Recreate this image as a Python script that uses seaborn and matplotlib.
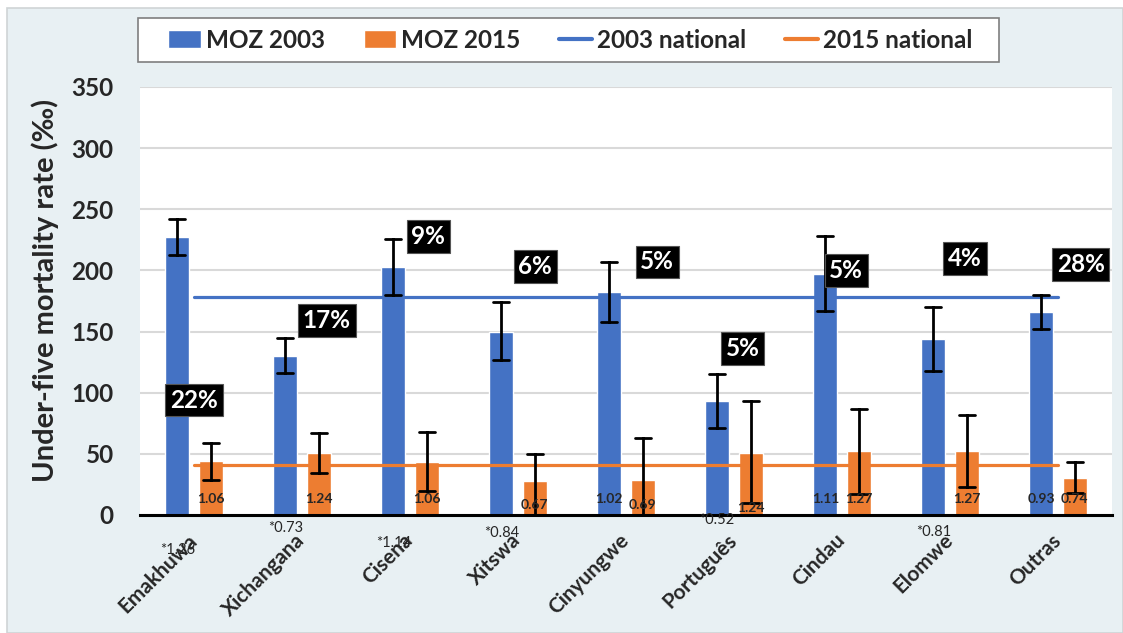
import numpy as np
import pandas as pd
import matplotlib
matplotlib.use("Agg")
import matplotlib.pyplot as plt
from matplotlib.patches import Rectangle, Patch
from matplotlib.lines import Line2D
import seaborn as sns

# === data ===
languages = ["Emakhuwa", "Xichangana", "Cisena", "Xitswa", "Cinyungwe",
             "Português", "Cindau", "Elomwe", "Outras"]
u5mr_2003 = [227, 130, 203, 150, 182, 93, 197, 144, 166]
ci_2003_low = [213, 116, 180, 127, 158, 71, 167, 118, 152]
ci_2003_high = [242, 145, 226, 174, 207, 115, 228, 170, 180]
u5mr_2015 = [44, 51, 43, 28, 29, 51, 52, 52, 30]
ci_2015_low = [29, 34, 20, -3, -6, 10, 17, 23, 18]
ci_2015_high = [59, 67, 68, 50, 63, 93, 87, 82, 43]
national_2003 = 178
national_2015 = 41
share = ["22%", "17%", "9%", "6%", "5%", "5%", "5%", "4%", "28%"]
ratio_2003 = ["*1.26", "*0.73", "*1.14", "*0.84", "1.02", "*0.52", "1.11", "*0.81", "0.93"]
ratio_2015 = ["1.06", "1.24", "1.06", "0.67", "0.69", "1.24", "1.27", "1.27", "0.74"]

BLUE = "#4472C4"
ORANGE = "#ED7D31"
BG = "#E8F0F3"

# long table: low / point / high per bar, median = bar height, min-max = error bar
rows = []
for i, lang in enumerate(languages):
    for v in (ci_2003_low[i], u5mr_2003[i], ci_2003_high[i]):
        rows.append((lang, "MOZ 2003", v))
    for v in (ci_2015_low[i], u5mr_2015[i], ci_2015_high[i]):
        rows.append((lang, "MOZ 2015", v))
df = pd.DataFrame(rows, columns=["language", "survey", "u5mr"])

sns.set_style("white")
plt.rcParams["font.family"] = ["Lato", "DejaVu Sans"]

fig = plt.figure(figsize=(11.23, 6.33), dpi=100, facecolor="white")
fig.patches.append(Rectangle((7 / 1123, 0), 1 - 7 / 1123, 1 - 8 / 633,
                             transform=fig.transFigure, facecolor=BG,
                             edgecolor="#cfd4d6", linewidth=1.2, zorder=-10))
ax = fig.add_axes([140 / 1123, 1 - 515 / 633, 972 / 1123, 428 / 633])
ax.set_facecolor("white")

sns.barplot(data=df, x="language", y="u5mr", hue="survey", order=languages,
            hue_order=["MOZ 2003", "MOZ 2015"], palette=[BLUE, ORANGE], saturation=1,
            estimator=np.median, errorbar=lambda v: (v.min(), v.max()),
            width=0.62, gap=0.29, capsize=0.3,
            err_kws={"color": "black", "linewidth": 2, "zorder": 5},
            ax=ax, legend=False, zorder=3)

x = np.arange(len(languages))
sns.lineplot(x=x, y=[national_2003] * len(x), color=BLUE, linewidth=2.3, ax=ax, zorder=4)
sns.lineplot(x=x, y=[national_2015] * len(x), color=ORANGE, linewidth=2.3, ax=ax, zorder=4)

ax.set_xlim(-0.5, len(languages) - 0.5)
ax.set_ylim(0, 350)
ax.set_yticks(range(0, 351, 50))
ax.grid(axis="y", color="#d9d9d9", linewidth=1.5, zorder=0)
ax.set_axisbelow(True)
for s in ["left", "right", "top"]:
    ax.spines[s].set_visible(False)
ax.spines["bottom"].set_color("black")
ax.spines["bottom"].set_linewidth(2.2)
ax.spines["bottom"].set_zorder(6)

ax.set_xticks(x)
ax.set_xticks(np.arange(-0.5, len(languages)), minor=True)
ax.tick_params(axis="x", which="major", length=0, pad=16)
ax.tick_params(axis="x", which="minor", length=7, width=2, color="black", direction="out")
ax.set_xticklabels(languages, rotation=45, ha="right", rotation_mode="anchor",
                   fontsize=15, fontweight="bold", va="center")
ax.tick_params(axis="y", length=0, pad=19, labelsize=17.5)
for t in ax.get_yticklabels():
    t.set_fontweight("bold")
ax.set_xlabel("")
ax.set_ylabel("Under-five mortality rate (‰)", fontsize=21, fontweight="bold")
ax.yaxis.set_label_coords(-0.083, 0.525)

# ratio labels on bars
off = 0.155
lab_y_2003 = [-29, -11, -23, -15, 13, -4, 13, -14, 13]
lab_y_2015 = [13, 13, 13, 8, 8, 6, 13, 13, 13]
for i in range(len(languages)):
    star = ratio_2003[i].startswith("*")
    ax.text(i - off, lab_y_2003[i], ratio_2003[i], ha="center", va="center",
            fontsize=10.5 if star else 10, fontweight="normal" if star else "bold",
            clip_on=False, zorder=7)
    ax.text(i + off, lab_y_2015[i], ratio_2015[i], ha="center", va="center",
            fontsize=10, fontweight="bold", zorder=7)

# population share boxes
share_dx = [0.0, 1.23 - 1, 2.17 - 2, 3.16 - 3, 4.29 - 4, 5.08 - 5, 6.04 - 6, 7.14 - 7, 8.21 - 8]
share_y = [94, 159, 228, 203, 207, 136, 200, 210, 205]
for i in range(len(languages)):
    ax.text(i + share_dx[i], share_y[i], share[i], ha="center", va="center",
            color="white", fontsize=17.5, fontweight="bold", zorder=8,
            bbox=dict(boxstyle="square,pad=0.2", facecolor="black", edgecolor="#555555",
                      linewidth=0.8))

# legend
fig.patches.append(Rectangle((138 / 1123, 1 - 62 / 633), 861 / 1123, 44 / 633,
                             transform=fig.transFigure, facecolor="white",
                             edgecolor="#7f7f7f", linewidth=1.2, zorder=1))
handles = [Patch(facecolor=BLUE), Patch(facecolor=ORANGE),
           Line2D([], [], color=BLUE, linewidth=3), Line2D([], [], color=ORANGE, linewidth=3)]
fig.legend(handles, ["MOZ 2003", "MOZ 2015", "2003 national", "2015 national"],
           loc="center", bbox_to_anchor=(570 / 1123, 1 - 40 / 633), ncol=4, frameon=False,
           prop={"family": ["Lato", "DejaVu Sans"], "weight": "bold", "size": 17.5},
           handlelength=1.35, handletextpad=0.2, columnspacing=1.6)

fig.savefig("out.png", dpi=100, facecolor=fig.get_facecolor())
plt.close(fig)
